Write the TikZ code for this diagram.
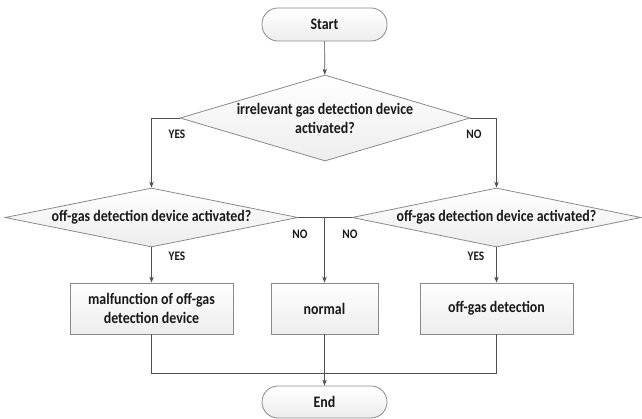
\documentclass[tikz,border=0pt]{standalone}
\usepackage{fontspec}
\setmainfont{Carlito}[FakeStretch=0.87]
\usetikzlibrary{shapes.geometric,arrows.meta}
\definecolor{edge}{HTML}{8A8A8A}
\definecolor{conn}{HTML}{505050}
\begin{document}
\begin{tikzpicture}[x=1pt,y=-1pt,
  every node/.style={font=\bfseries\fontsize{16}{19}\selectfont, text=black!90},
  fillshade/.style={top color=white, bottom color=gray!14, draw=edge, line width=0.8pt},
  term/.style={fillshade, rounded corners=16pt, minimum width=125pt, minimum height=33pt, inner sep=0pt},
  dec/.style={fillshade, diamond, aspect=4, inner sep=0pt, align=center},
  proc/.style={fillshade, minimum height=51pt, inner sep=0pt, align=center},
  lab/.style={font=\bfseries\fontsize{13}{15}\selectfont, inner sep=0pt},
  arr/.style={draw=conn, line width=0.7pt, -{Stealth[length=6pt,width=4.5pt]}},
  ln/.style={draw=conn, line width=0.7pt}]
\useasboundingbox (0,0) rectangle (642,419);
\node[term] (start) at (324.5,24.5) {Start};
\node[dec, aspect=3.4, minimum width=290pt, minimum height=86pt] (d1) at (325,118) {irrelevant gas detection device\\activated?};
\node[dec, aspect=5, minimum width=293pt, minimum height=59pt] (dL) at (151.5,217.5) {off-gas detection device activated?};
\node[dec, aspect=5, minimum width=289pt, minimum height=59pt] (dR) at (496.5,217.5) {off-gas detection device activated?};
\node[proc, minimum width=163pt] (b1) at (151.5,308.5) {malfunction of off-gas\\detection device};
\node[proc, minimum width=107pt] (b2) at (324.5,308.5) {normal};
\node[proc, minimum width=153pt] (b3) at (496.5,308.5) {off-gas detection};
\node[term, minimum height=32pt] (end) at (324.5,402) {End};

\node[lab] (yes1) at (177,134) {YES};
\node[lab] (no1) at (474,134) {NO};
\node[lab] (no2) at (300,234) {NO};
\node[lab] (no3) at (350,234) {NO};
\node[lab] (yes2) at (177,256) {YES};
\node[lab] (yes3) at (476,256) {YES};

\coordinate (nj) at (b2.north |- dL.east);
\coordinate (bj) at (324.5,373);

\draw[arr] (start) -- (d1);
\draw[arr] (d1.west) -| (dL.north);
\draw[arr] (d1.east) -| (dR.north);
\draw[ln] (dL.east) -- (dR.west);
\draw[arr] (nj) -- (b2.north);
\draw[arr] (dL.south) -- (b1.north);
\draw[arr] (dR.south) -- (b3.north);
\draw[ln] (b1.south) -- (b1.south |- bj) -- (b3.south |- bj) -- (b3.south);
\draw[arr] (b2.south) -- (end);
\end{tikzpicture}
\end{document}
